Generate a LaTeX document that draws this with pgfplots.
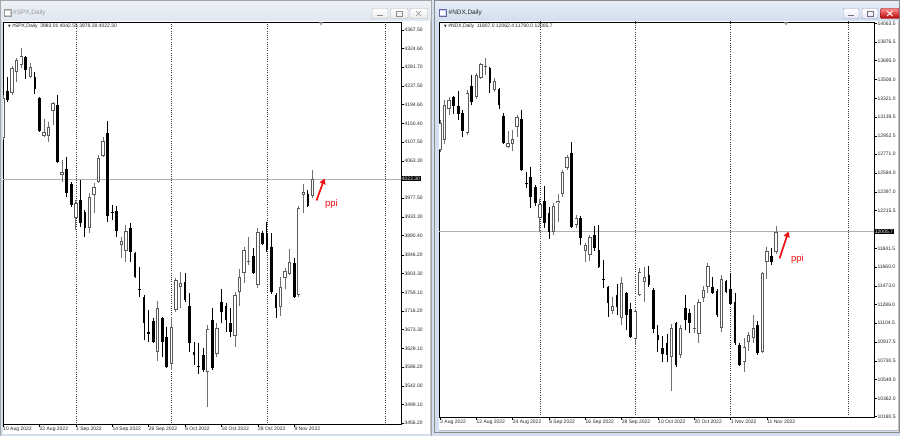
\documentclass[border=0pt]{standalone}
\usepackage{pgfplots}
\pgfplotsset{compat=1.18}
\usepackage{pgfplotstable}
\usepackage{fontspec}
\setmainfont{Liberation Sans}
\newfontfamily\dejavu{DejaVu Sans}
\usetikzlibrary{arrows.meta}
\definecolor{winbg}{HTML}{D3DFEE}
\definecolor{titA}{HTML}{E6EEF8}
\definecolor{titB}{HTML}{D2DFEE}
\definecolor{titC}{HTML}{EEF2F7}
\definecolor{titD}{HTML}{E0E7F0}
\definecolor{upgray}{HTML}{5A5A5A}
\definecolor{wickgray}{HTML}{707070}
\definecolor{ppired}{HTML}{F01010}
\newcommand\tk{\fontsize{5}{6}\selectfont}

\pgfplotstableread{
i o h l c
0 4117.1 4216.8 4112.4 4209.8
2 4221.4 4284.0 4216.8 4279.4
3 4270.1 4302.6 4246.9 4297.9
4 4286.3 4325.8 4279.4 4307.2
6 4258.5 4291.0 4256.2 4281.7
9 4121.7 4161.1 4119.4 4131.0
10 4121.7 4154.2 4107.8 4142.6
11 4179.7 4200.5 4147.2 4198.2
13 4031.2 4066.0 4015.0 4038.2
16 3931.5 3973.3 3903.7 3966.3
19 3908.3 3989.5 3896.7 3980.2
20 3984.9 4012.7 3943.1 4003.4
21 4015.0 4077.6 4012.7 4070.7
22 4075.3 4119.4 4073.0 4110.1
26 3868.9 3887.5 3838.8 3878.2
27 3855.0 3915.3 3829.5 3901.4
34 3620.8 3739.1 3599.9 3722.8
37 3593.0 3702.0 3579.0 3678.8
38 3718.2 3792.4 3713.5 3787.8
39 3771.5 3806.3 3722.8 3780.8
45 3574.4 3683.4 3493.2 3674.1
47 3616.1 3688.0 3609.2 3676.4
51 3657.9 3759.9 3632.4 3753.0
52 3759.9 3813.3 3727.5 3794.7
53 3804.0 3864.3 3780.8 3857.3
54 3829.5 3887.5 3822.5 3830.7
56 3776.2 3908.3 3769.2 3899.1
61 3725.1 3794.7 3704.3 3771.5
62 3792.4 3815.6 3766.9 3808.6
63 3801.7 3859.6 3799.3 3829.5
65 3753.0 3959.4 3748.3 3954.7
66 3984.9 4010.4 3943.1 3991.8
68 3983.01 4042.55 3978.28 4022.30
}\spxup

\pgfplotstableread{
i o h l c
1 4226.0 4258.5 4200.5 4205.2
5 4304.9 4307.2 4253.9 4274.7
7 4258.5 4270.1 4219.1 4230.7
8 4209.8 4212.1 4131.0 4133.3
12 4193.6 4216.8 4059.1 4061.4
14 4045.2 4073.0 3980.2 3989.5
15 4010.4 4015.0 3957.0 3961.7
17 3973.3 4019.6 3910.7 3919.9
18 3945.4 3950.1 3887.5 3908.3
23 4128.6 4156.5 3922.3 3936.2
24 3945.4 3961.7 3926.9 3943.1
25 3947.8 3959.4 3887.5 3901.4
28 3908.3 3919.9 3829.5 3852.7
29 3850.4 3852.7 3792.4 3794.7
30 3766.9 3817.9 3748.3 3765.7
31 3748.3 3753.0 3648.6 3688.0
32 3667.2 3718.2 3644.0 3662.5
33 3692.7 3699.6 3641.7 3644.0
35 3699.6 3702.0 3609.2 3644.0
36 3655.6 3678.8 3583.7 3586.0
40 3783.1 3804.0 3736.7 3741.4
41 3727.5 3757.6 3620.8 3641.7
42 3620.8 3644.0 3590.6 3613.8
43 3588.3 3641.7 3569.8 3587.2
44 3613.8 3630.1 3574.4 3579.0
46 3695.0 3722.8 3579.0 3583.7
48 3736.7 3766.9 3688.0 3713.5
49 3727.5 3734.4 3667.2 3695.0
50 3688.0 3722.8 3655.6 3667.2
55 3843.4 3862.0 3801.7 3804.0
57 3896.7 3901.4 3868.9 3871.2
58 3896.7 3922.3 3852.7 3857.3
59 3864.3 3896.7 3755.3 3759.9
60 3753.0 3757.6 3699.6 3722.8
64 3827.2 3838.8 3746.0 3748.3
67 3987.2 3996.5 3957.0 3959.4
}\spxdn

\pgfplotstableread{
i o h l c
0 12813.0 13109.1 12793.2 13079.5
1 12911.7 13306.5 12872.2 13257.1
2 13217.6 13336.1 13158.4 13306.5
6 12980.8 13405.2 12961.0 13375.6
8 13336.1 13573.0 13316.3 13553.2
9 13523.6 13671.7 13513.7 13661.8
10 13632.2 13721.0 13553.2 13642.1
12 13405.2 13523.6 13385.4 13494.0
15 12842.6 13000.5 12832.7 12882.1
16 12872.2 13010.4 12803.1 12921.5
17 13040.0 13158.4 12941.3 13138.7
22 12141.8 12329.3 12003.6 12280.0
25 12003.6 12289.9 11974.0 12260.3
26 12289.9 12378.7 12102.3 12309.6
27 12378.7 12615.6 12349.1 12595.8
28 12635.3 12763.6 12615.6 12743.9
30 12072.7 12171.4 12043.1 12141.8
32 11816.1 11895.1 11707.5 11875.3
33 11776.6 11974.0 11717.4 11954.3
38 11223.9 11362.1 11194.3 11273.3
40 11154.8 11559.5 11085.7 11500.3
43 10947.5 11243.6 10888.3 11223.9
44 11381.8 11648.3 11372.0 11608.8
45 11510.1 11658.2 11312.7 11559.5
51 10769.9 11095.6 10434.3 11056.1
53 10789.6 11085.7 10760.0 11056.1
56 11051.2 11283.1 11006.8 11056.1
57 10996.9 11342.3 10908.1 11312.7
58 11352.2 11470.7 11312.7 11431.2
59 11460.8 11697.7 11401.6 11668.1
62 11056.1 11579.2 11016.6 11539.7
67 10720.5 10957.4 10621.8 10868.6
68 10917.9 11016.6 10829.1 10987.0
69 10957.4 11184.4 10908.1 11056.1
71 10819.2 11608.8 10809.4 11599.0
72 11707.5 11855.6 11539.7 11816.1
74 11807.0 12062.4 11790.0 12005.7
}\ndxup

\pgfplotstableread{
i o h l c
3 13336.1 13346.0 13168.3 13247.3
4 13247.3 13395.3 13109.1 13168.3
5 13178.2 13207.8 12941.3 13000.5
7 13444.7 13553.2 13257.1 13286.7
11 13622.3 13632.2 13375.6 13474.3
13 13415.0 13424.9 13217.6 13257.1
14 13148.6 13178.2 12872.2 12882.1
18 13118.9 13207.8 12605.7 12615.6
19 12492.2 12595.8 12437.9 12487.3
20 12546.5 12645.2 12240.5 12349.1
21 12447.8 12467.5 12260.3 12289.9
23 12309.6 12457.7 12043.1 12092.5
24 12191.2 12250.4 11934.5 12003.6
29 12783.4 12891.9 12043.1 12053.0
31 12141.8 12161.6 11875.3 11944.4
34 11974.0 12062.9 11816.1 11845.7
35 11826.0 12072.7 11648.3 11658.2
36 11539.7 11727.3 11450.9 11534.8
37 11460.8 11470.7 11164.7 11302.9
39 11381.8 11490.4 11184.4 11263.4
41 11401.6 11411.4 11036.4 11184.4
42 11243.6 11302.9 10957.4 10967.3
46 11579.2 11668.1 11460.8 11480.5
47 11431.2 11450.9 11006.8 11046.2
48 10987.0 11085.7 10819.2 10937.7
49 10858.7 10977.2 10720.5 10799.5
50 10908.1 10996.9 10720.5 10789.6
52 11105.5 11115.3 10671.2 10690.9
54 11253.5 11381.8 11036.4 11135.1
55 11204.2 11243.6 11006.8 11105.5
60 11460.8 11559.5 11391.7 11401.6
61 11421.3 11441.0 11164.7 11184.4
63 11520.0 11529.9 11401.6 11411.4
64 11441.0 11599.0 11283.1 11293.0
65 11312.7 11401.6 10888.3 10908.1
66 10888.3 10908.1 10681.1 10690.9
70 11085.7 11125.2 10789.6 10809.4
73 11766.8 11845.7 11677.9 11707.5
}\ndxdn

\pgfplotsset{
  candle/.style={only marks, mark=*, mark size=0pt, mark options={draw=none, fill=none}, forget plot,
    error bars/.cd, y dir=minus, y explicit, error mark=none,
    error bar style={line cap=butt, #1}},
  mtaxis/.style={
    scale only axis, anchor=south west,
    axis background/.style={fill=white},
    axis line style={black, line width=0.6pt},
    scaled ticks=false,
    tick align=outside, xtick pos=left, ytick pos=right, yticklabel pos=right,
    major tick length=2.5pt,
    tick style={black, line width=0.5pt},
    tick label style={font=\tk, text=black!85},
    xticklabel style={anchor=north west, inner sep=0.4pt, xshift=-0.3pt, yshift=0.4pt},
    yticklabel style={anchor=west, inner sep=0.8pt},
    extra y tick style={yticklabel style={fill=black, text=white, inner sep=0.7pt}, major tick length=0pt},
  },
}

\begin{document}
\begin{tikzpicture}[x=1pt, y=-1pt]
\useasboundingbox (0,0) rectangle (900,436);
% window chrome
\fill[winbg] (0,0) rectangle (900,436);
\shade[top color=titC, bottom color=titD] (0,0) rectangle (432,21);
\shade[top color=titA, bottom color=titB] (434,0) rectangle (900,21);
\draw[black!35, line width=0.5pt] (0.3,0.3) rectangle (431.7,440);
\draw[black!45, line width=0.5pt] (434.3,0.3) rectangle (899.7,432.5);
\fill[white] (3,21) rectangle (430,434);
\fill[white] (439,21) rectangle (898,430);
\draw[black!25] (430.5,21) -- (430.5,434);
\draw[black!25] (898.5,21) -- (898.5,430) -- (439,430);
% title icons and texts
\fill[black!20] (4,9) rectangle (11,16); \fill[white] (5,11) rectangle (10,15); \draw[black!40,line width=0.3pt] (4,9) rectangle (11,16);
\node[anchor=west, inner sep=0, font=\fontsize{6.4}{7}\selectfont, text=black!40] at (13,13) {\#SPX,Daily};
\fill[blue!20] (439,9) rectangle (446,16); \fill[white] (440,11) rectangle (445,15); \draw[blue!40!black!60,line width=0.3pt] (439,9) rectangle (446,16);
\node[anchor=west, inner sep=0, font=\fontsize{6.4}{7}\selectfont, text=black!85] at (448.5,13) {\#NDX,Daily};
% buttons left (inactive)
\foreach \a/\b in {372/388, 390.5/408, 410/427.5}{
  \shade[top color=white, bottom color=black!8, draw=black!30, line width=0.4pt, rounded corners=1pt] (\a,8.5) rectangle (\b,18.5);}
\draw[black!45, line width=0.7pt] (377,15.5) -- (383,15.5);
\draw[black!45, line width=0.5pt] (396.5,11) rectangle (402,16);
\draw[black!45, line width=0.6pt] (416,11) -- (421,16) (416,16) -- (421,11);
% buttons right (active)
\foreach \a/\b in {843.5/859, 862/878}{
  \shade[top color=white, bottom color=blue!10, draw=blue!30!black!40, line width=0.4pt, rounded corners=1pt] (\a,8.5) rectangle (\b,18.5);}
\shade[top color=red!45, bottom color=red!70!black, draw=red!50!black, line width=0.4pt, rounded corners=1pt] (880.5,8.5) rectangle (899,18.5);
\draw[black!55, line width=0.7pt] (848,15.5) -- (854,15.5);
\draw[black!55, line width=0.5pt] (867,11) rectangle (873,16);
\draw[white, line width=0.9pt] (887,11) -- (892.5,16) (887,16) -- (892.5,11);

% ---------------- SPX ----------------
\begin{axis}[mtaxis, at={(3pt,-424pt)}, width=398pt, height=402pt,
  xmin=0, xmax=87.47, ymin=3453.81, ymax=4386.05,
  xtick={0,8,16,24,32,40,48,56,64},
  xticklabels={10 Aug 2022,22 Aug 2022,1 Sep 2022,14 Sep 2022,26 Sep 2022,6 Oct 2022,18 Oct 2022,28 Oct 2022,9 Nov 2022},
  ytick={4367.5,4324.6,4281.7,4237.5,4194.6,4150.4,4107.5,4063.3,3977.5,3933.3,3890.4,3846.2,3803.3,3759.1,3716.2,3673.3,3629.1,3586.2,3542.0,3499.1,3456.2},
  yticklabels={4367.50,4324.60,4281.70,4237.50,4194.60,4150.40,4107.50,4063.30,3977.50,3933.30,3890.40,3846.20,3803.30,3759.10,3716.20,3673.30,3629.10,3586.20,3542.00,3499.10,3456.20},
  extra y ticks={4022.3}, extra y tick labels={4022.30},
]
\addplot[black!30, line width=0.6pt, forget plot] coordinates {(-5,4022.3) (100,4022.3)};
\addplot[black!80, line width=0.6pt, dash pattern=on 0.9pt off 1.3pt, forget plot] coordinates {(16,3400) (16,4400)};
\addplot[black!80, line width=0.6pt, dash pattern=on 0.9pt off 1.3pt, forget plot] coordinates {(37,3400) (37,4400)};
\addplot[black!80, line width=0.6pt, dash pattern=on 0.9pt off 1.3pt, forget plot] coordinates {(58,3400) (58,4400)};
\addplot[black!80, line width=0.6pt, dash pattern=on 0.9pt off 1.3pt, forget plot] coordinates {(83.96,3400) (83.96,4400)};
\addplot[candle={wickgray, line width=0.9pt}] table[x=i, y=h, y error minus expr=\thisrow{h}-\thisrow{l}] {\spxup};
\addplot[candle={black, line width=0.9pt}] table[x=i, y=h, y error minus expr=\thisrow{h}-\thisrow{l}] {\spxdn};
\addplot[candle={black, line width=2.7pt}] table[x=i, y=o, y error minus expr=\thisrow{o}-\thisrow{c}] {\spxdn};
\addplot[candle={upgray, line width=3.4pt}] table[x=i, y=c, y error minus expr=\thisrow{c}-\thisrow{o}] {\spxup};
\addplot[candle={white, line width=1.5pt}] table[x=i, y expr=\thisrow{c}-2.0, y error minus expr={max(\thisrow{c}-\thisrow{o}-4.0,0)}] {\spxup};
\end{axis}

% ---------------- NDX ----------------
\begin{axis}[mtaxis, at={(439pt,-417pt)}, width=435pt, height=395pt,
  xmin=-0.22, xmax=95.59, ymin=10177.68, ymax=14076.33,
  xtick={0,8,16,24,32,40,48,56,64,72},
  xticklabels={2 Aug 2022,12 Aug 2022,24 Aug 2022,6 Sep 2022,16 Sep 2022,28 Sep 2022,10 Oct 2022,20 Oct 2022,1 Nov 2022,11 Nov 2022},
  ytick={14063.5,13876.5,13695.0,13508.0,13321.0,13139.5,12952.5,12771.0,12584.0,12397.0,12215.5,11841.5,11660.0,11473.0,11286.0,11104.5,10917.5,10730.5,10549.0,10362.0,10180.5},
  yticklabels={14063.5,13876.5,13695.0,13508.0,13321.0,13139.5,12952.5,12771.0,12584.0,12397.0,12215.5,11841.5,11660.0,11473.0,11286.0,11104.5,10917.5,10730.5,10549.0,10362.0,10180.5},
  extra y ticks={12005.7}, extra y tick labels={12005.7},
]
\addplot[black!30, line width=0.6pt, forget plot] coordinates {(-5,12005.7) (100,12005.7)};
\addplot[black!80, line width=0.6pt, dash pattern=on 0.9pt off 1.3pt, forget plot] coordinates {(22,10000) (22,14200)};
\addplot[black!80, line width=0.6pt, dash pattern=on 0.9pt off 1.3pt, forget plot] coordinates {(43,10000) (43,14200)};
\addplot[black!80, line width=0.6pt, dash pattern=on 0.9pt off 1.3pt, forget plot] coordinates {(64,10000) (64,14200)};
\addplot[black!80, line width=0.6pt, dash pattern=on 0.9pt off 1.3pt, forget plot] coordinates {(90,10000) (90,14200)};
\addplot[candle={wickgray, line width=0.9pt}] table[x=i, y=h, y error minus expr=\thisrow{h}-\thisrow{l}] {\ndxup};
\addplot[candle={black, line width=0.9pt}] table[x=i, y=h, y error minus expr=\thisrow{h}-\thisrow{l}] {\ndxdn};
\addplot[candle={black, line width=2.7pt}] table[x=i, y=o, y error minus expr=\thisrow{o}-\thisrow{c}] {\ndxdn};
\addplot[candle={upgray, line width=3.4pt}] table[x=i, y=c, y error minus expr=\thisrow{c}-\thisrow{o}] {\ndxup};
\addplot[candle={white, line width=1.5pt}] table[x=i, y expr=\thisrow{c}-8.9, y error minus expr={max(\thisrow{c}-\thisrow{o}-17.8,0)}] {\ndxup};
\end{axis}

% chart headers
\node[anchor=west, inner sep=0, font=\tk, text=black!85] at (8,26.5) {{\dejavu\fontsize{3.5}{4}\selectfont ▼}\ \#SPX,Daily\ \ 3983.01 4042.55 3978.28 4022.30};
\node[anchor=west, inner sep=0, font=\tk, text=black!85] at (444,26.5) {{\dejavu\fontsize{3.5}{4}\selectfont ▼}\ \#NDX,Daily\ \ 11807.0 12062.4 11790.0 12005.7};
% shift markers
\fill[black!35] (319,22.5) -- (323,22.5) -- (321,25.5) -- cycle;
\fill[black!35] (784,22.5) -- (788,22.5) -- (786,25.5) -- cycle;
% annotations
\draw[ppired, line width=1.7pt, -{Triangle[length=5.5pt, width=6pt]}] (316.5,200.5) -- (324.5,178.5);
\node[text=ppired, font=\fontsize{9.5}{10}\selectfont, inner sep=0] at (331.5,204.5) {ppi};
\draw[ppired, line width=1.7pt, -{Triangle[length=5.5pt, width=6pt]}] (779.5,258.5) -- (788.5,231.5);
\node[text=ppired, font=\fontsize{9.5}{10}\selectfont, inner sep=0] at (797.5,259.5) {ppi};
\end{tikzpicture}
\end{document}
